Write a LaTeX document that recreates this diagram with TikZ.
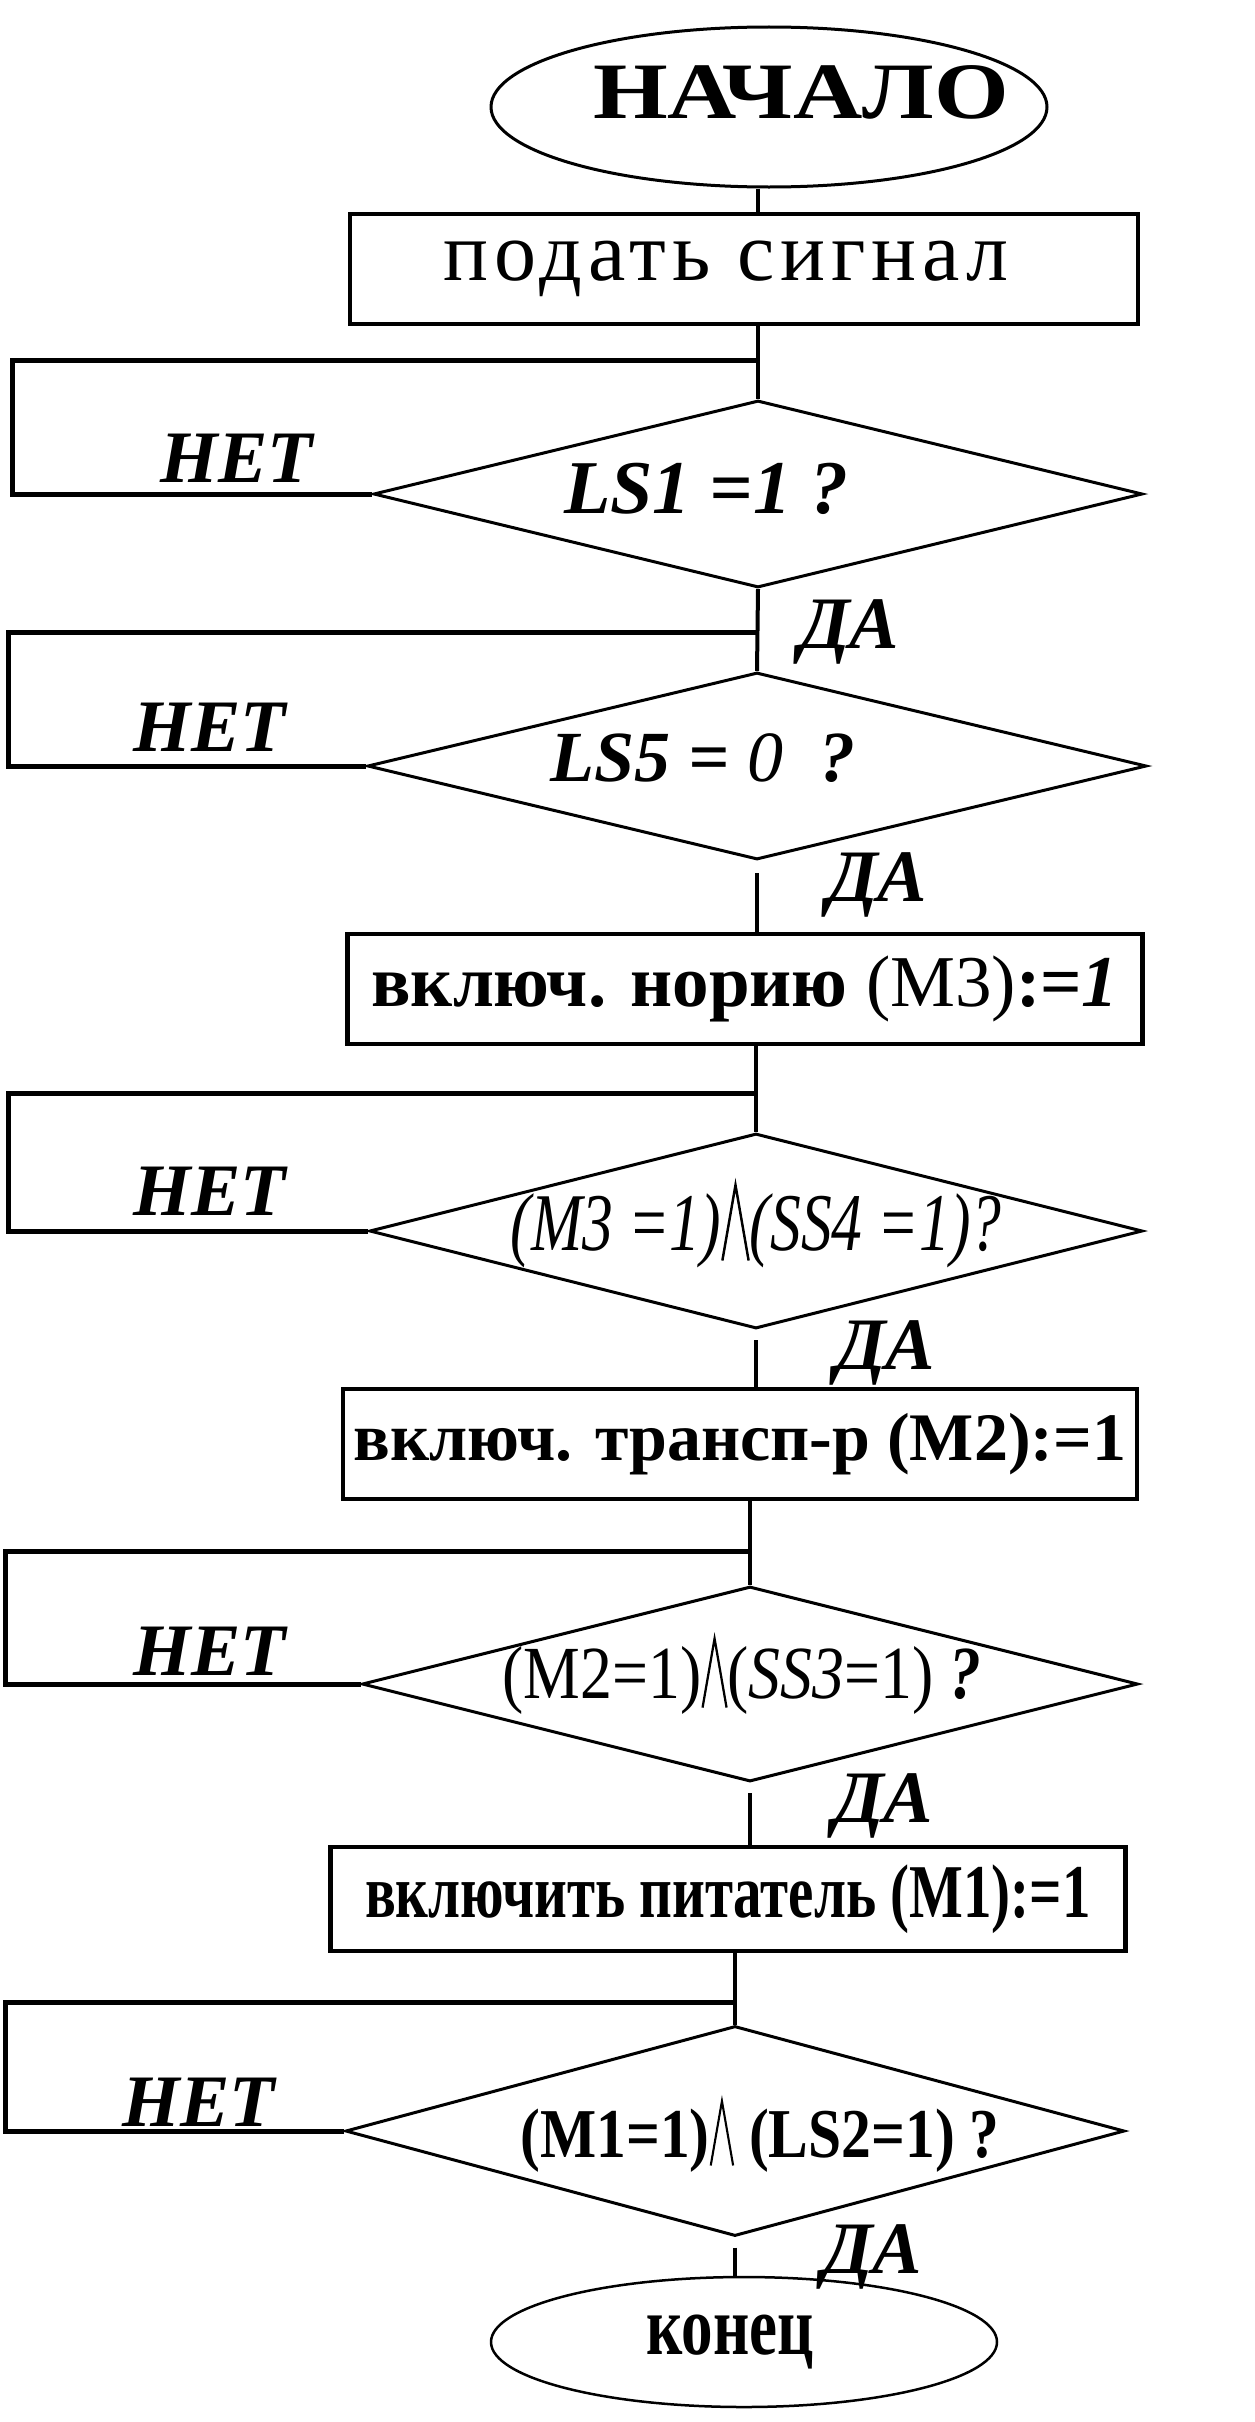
\documentclass[tikz,border=0pt]{standalone}
\usepackage{graphicx}
\usepackage{fontspec}
\setmainfont{Liberation Serif}
\newfontfamily\narrowfont[FakeStretch=0.75]{Liberation Serif}
\newfontfamily\slimfont[FakeStretch=0.85]{Liberation Serif}
\newfontfamily\widefont[FakeStretch=1.2]{Liberation Serif}
\usetikzlibrary{shapes.geometric}
\usetikzlibrary{positioning}

\newcommand{\andsign}{\tikz[baseline=0pt, x=1em, y=1em]\draw[line width=0.03em] (0,-0.12) -- (0.16,0.8) -- (0.32,-0.12);}

\begin{document}
\begin{tikzpicture}[x=1pt, y=-1pt, >=latex]
	\tikzstyle{terminal} = [draw, ellipse, line width=3pt, inner sep=0pt];
	\tikzstyle{block} = [draw, rectangle, line width=4.5pt, inner sep=0pt, minimum height=110pt];
	\tikzstyle{cond} = [draw, diamond, aspect=4.1, line width=3pt, inner sep=0pt];
	\tikzstyle{ans} = [inner sep=0pt, font=\fontsize{74}{80}\selectfont\bfseries\itshape];
	\tikzstyle{link} = [line width=4pt];
	\tikzstyle{back} = [line width=5pt];

	\useasboundingbox (0,0) rectangle (1254,2422);

	% start and first action
	\node [terminal, minimum width=556pt, minimum height=160pt] (start) at (769,107) {};
	\node [font=\fontsize{80}{84}\selectfont\widefont\bfseries] (t0) at (801,92) {НАЧАЛО};
	\node [block, minimum width=788pt, font=\fontsize{84}{88}\selectfont\addfontfeatures{LetterSpace=7}] (r1) at (744,269) {подать сигнал\hspace*{36pt}};

	% checks of the sensors
	\node [cond, minimum width=769pt, minimum height=187pt] (d1) at (758,494) {};
	\node [font=\fontsize{76}{80}\selectfont\bfseries\itshape] (q1) at (706,489) {LS1 =1 ?};
	\node [cond, minimum width=779pt, minimum height=187pt] (d2) at (757,766) {};
	\node [font=\fontsize{72}{76}\selectfont\bfseries\itshape] (q2) at (703,758) {LS5 = \textmd{0}\ \ ?};

	\node [block, minimum width=795pt, font=\fontsize{73}{76}\selectfont] (r2) at (745,989) {\textbf{включ. норию} (М3)\textbf{:=\textit{1}}};

	\node [cond, minimum width=773pt, minimum height=195pt] (d3) at (756,1231) {};
	\node [font=\fontsize{82}{86}\selectfont\narrowfont\itshape] (q3) at (756,1226) {(M3 =1)\andsign(SS4 =1)?};

	\node [block, minimum width=794pt, font=\fontsize{68}{72}\selectfont\bfseries] (r3) at (740,1444) {включ. трансп-р (М2):=1};

	\node [cond, minimum width=776pt, minimum height=195pt] (d4) at (750,1684) {};
	\node [font=\fontsize{75}{80}\selectfont\slimfont] (q4) at (742,1676) {(M2=1)\andsign(\textit{SS3}=1) \textbf{\textit{?}}};

	\node [block, minimum width=795pt, minimum height=104pt, font=\fontsize{76}{80}\selectfont\narrowfont\bfseries] (r4) at (728,1899) {включить питатель (М1):=1};

	\node [cond, minimum width=779pt, minimum height=210pt] (d5) at (735,2131) {};
	\node [font=\fontsize{70}{74}\selectfont\slimfont\bfseries] (q5) at (760,2136) {(M1=1)\andsign\ (LS2=1) ?};

	\node [terminal, line width=2.5pt, minimum width=506pt, minimum height=130pt, font=\fontsize{84}{88}\selectfont\narrowfont\bfseries] (stop) at (744,2342) {конец\hspace*{28pt}};

	% answers
	\node [ans] (n1) at (237,458) {НЕТ};
	\node [ans] (y1) at (849,632) {ДА};
	\node [ans] (n2) at (210,727) {НЕТ};
	\node [ans] (y2) at (877,885) {ДА};
	\node [ans] (n3) at (210,1191) {НЕТ};
	\node [ans] (y3) at (885,1353) {ДА};
	\node [ans] (n4) at (210,1651) {НЕТ};
	\node [ans] (y4) at (883,1806) {ДА};
	\node [ans] (n5) at (199,2102) {НЕТ};
	\node [ans] (y5) at (872,2257) {ДА};

	% main line
	\draw [link] (start.south -| d1.north) -- (d1.north |- r1.north);
	\draw [link] (r1.south -| d1.north) -- (d1.north);
	\draw [link] (d1.south) -- (d2.north);
	\draw [link, shorten <=12pt] (d2.south) -- (d2.south |- r2.north);
	\draw [link] (r2.south -| d3.north) -- (d3.north);
	\draw [link, shorten <=10pt] (d3.south) -- (d3.south |- r3.north);
	\draw [link] (r3.south -| d4.north) -- (d4.north);
	\draw [link, shorten <=10pt] (d4.south) -- (d4.south |- r4.north);
	\draw [link] (r4.south -| d5.north) -- (d5.north);
	\draw [link, shorten <=10pt] (d5.south) -- (d5.south |- stop.north);

	% returns on НЕТ
	\coordinate (k1) at (12,360);
	\coordinate (k2) at (8,632);
	\coordinate (k3) at (8,1093);
	\coordinate (k4) at (5,1551);
	\coordinate (k5) at (5,2002);
	\draw [back] (d1.west) -| (k1) -- (k1 -| d1.north);
	\draw [back] (d2.west) -| (k2) -- (k2 -| d2.north);
	\draw [back] (d3.west) -| (k3) -- (k3 -| d3.north);
	\draw [back] (d4.west) -| (k4) -- (k4 -| d4.north);
	\draw [back] (d5.west) -| (k5) -- (k5 -| d5.north);
\end{tikzpicture}
\end{document}
